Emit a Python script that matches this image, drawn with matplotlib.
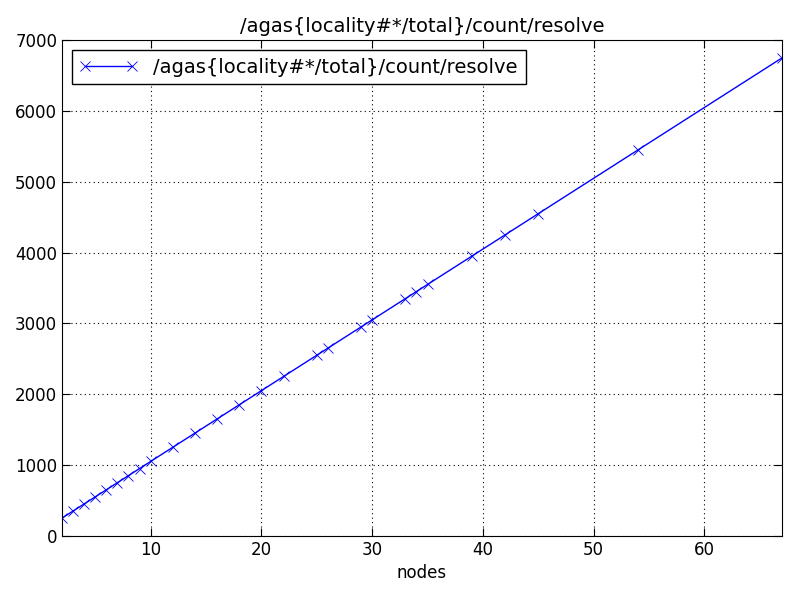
import matplotlib
matplotlib.use("Agg")
import matplotlib.pyplot as plt

nodes = [2, 3, 4, 5, 6, 7, 8, 9, 10, 12, 14, 16, 18, 20, 22, 25, 26, 29, 30, 33, 34, 35, 39, 42, 45, 54, 67]
counts = [250, 350, 450, 550, 650, 750, 850, 950, 1050, 1250, 1450, 1650, 1850, 2050, 2250, 2550, 2650, 2950, 3050,
          3350, 3450, 3550, 3950, 4250, 4550, 5450, 6750]
label = "/agas{locality#*/total}/count/resolve"

fig = plt.figure(figsize=(8, 6), dpi=100)
ax = fig.add_axes([0.0775, 0.107, 0.9, 0.826])
ax.plot(nodes, counts, color="blue", marker="x", markersize=7, markeredgewidth=0.6, linewidth=1, label=label)
ax.set_xlim(2, 67)
ax.set_ylim(0, 7000)
ax.set_xticks([10, 20, 30, 40, 50, 60])
ax.grid(True, color="black", linestyle=(0, (1, 3)), linewidth=0.8)
ax.set_title(label, fontsize=14)
ax.set_xlabel("nodes", fontsize=12)
ax.tick_params(labelsize=12, direction="in", length=6, top=True, right=True)
leg = ax.legend(loc="upper left", fontsize=14, fancybox=False, framealpha=1, edgecolor="black",
                numpoints=2, handlelength=3)
leg.get_frame().set_linewidth(1)
fig.savefig("out.png")
